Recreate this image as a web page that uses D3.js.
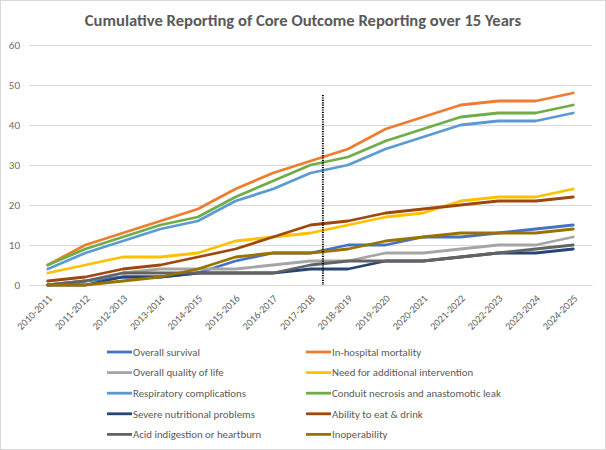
<!DOCTYPE html>
<html><head><meta charset="utf-8">
<script src="https://cdn.jsdelivr.net/npm/d3@7"></script>
<style>body{margin:0;background:#fff}</style>
</head><body><svg id="c" width="606" height="450"></svg>
<script>
const categories = ["2010-2011","2011-2012","2012-2013","2013-2014","2014-2015","2015-2016","2016-2017","2017-2018","2018-2019","2019-2020","2020-2021","2021-2022","2022-2023","2023-2024","2024-2025"];
const seriesNames = ["Overall survival","In-hospital mortality","Overall quality of life","Need for additional intervention","Respiratory complications","Conduit necrosis and anastomotic leak","Severe nutritional problems","Ability to eat & drink","Acid indigestion or heartburn","Inoperability"];
const seriesColors = ["#4472C4","#ED7D31","#A5A5A5","#FFC000","#5B9BD5","#70AD47","#264478","#9E480E","#636363","#997300"];
const overallSurvival   = [0,1,2,2,3,6,8,8,10,10,12,12,13,14,15];
const inHospitalMort    = [5,10,13,16,19,24,28,31,34,39,42,45,46,46,48];
const qualityOfLife     = [0,1,3,4,4,4,5,6,6,8,8,9,10,10,12];
const additionalInterv  = [3,5,7,7,8,11,12,13,15,17,18,21,22,22,24];
const respiratory       = [4,8,11,14,16,21,24,28,30,34,37,40,41,41,43];
const conduitNecrosis   = [5,9,12,15,17,22,26,30,32,36,39,42,43,43,45];
const severeNutrition   = [0,0,2,2,3,3,3,4,4,6,6,7,8,8,9];
const eatDrink          = [1,2,4,5,7,9,12,15,16,18,19,20,21,21,22];
const acidIndigestion   = [0,1,3,3,3,3,3,5,6,6,6,7,8,9,10];
const inoperability     = [0,0,1,2,4,7,8,8,9,11,12,13,13,13,14];
const seriesValues = [overallSurvival,inHospitalMort,qualityOfLife,additionalInterv,respiratory,conduitNecrosis,severeNutrition,eatDrink,acidIndigestion,inoperability];
const yTicks = [0,10,20,30,40,50,60];
const markerPosition = 7.33; // dotted divider, in category index units
const title = "Cumulative Reporting of Core Outcome Reporting over 15 Years";

const svg = d3.select("#c");
const font = "Carlito, Calibri, 'Open Sans', sans-serif";
svg.append("rect").attr("x",0.5).attr("y",0.5).attr("width",605).attr("height",449)
  .attr("fill","#fff").attr("stroke","#d9d9d9");

const m = {l:29, r:592, t:45, b:285};
const x = d3.scaleBand().domain(categories).range([m.l, m.r]);
const y = d3.scaleLinear().domain([0,60]).range([m.b, m.t]);
const xc = c => x(c) + x.bandwidth()/2;
const xi = d3.scaleLinear().domain([0, categories.length-1]).range([xc(categories[0]), xc(categories[categories.length-1])]);

svg.append("text").attr("x",303).attr("y",26).attr("text-anchor","middle")
  .attr("font-family",font).attr("font-weight","bold").attr("font-size",16.6)
  .attr("fill","#595959").text(title);

// gridlines
const yAxis = d3.axisLeft(y).tickValues(yTicks).tickSize(-(m.r-m.l)).tickPadding(9);
const gy = svg.append("g").attr("transform",`translate(${m.l},0)`).call(yAxis);
gy.select(".domain").remove();
gy.selectAll(".tick line").attr("stroke","#d9d9d9").attr("stroke-width",1);
gy.selectAll(".tick text").attr("font-family",font).attr("font-size",11).attr("fill","#6a6a6a");

const xAxis = d3.axisBottom(x).tickSize(0).tickPadding(0);
const gx = svg.append("g").attr("transform",`translate(0,${m.b})`).call(xAxis);
gx.select(".domain").attr("stroke","#d9d9d9");
gx.selectAll(".tick text").attr("font-family",font).attr("font-size",10.2).attr("fill","#606060")
  .attr("text-anchor","end").attr("dy",0).attr("y",0)
  .attr("transform","translate(5,14) rotate(-45)");

const line = d3.line().x((d,i)=>xc(categories[i])).y(d=>y(d));
seriesValues.forEach((vals,k)=>{
  svg.append("path").datum(vals).attr("d",line)
    .attr("fill","none").attr("stroke",seriesColors[k]).attr("stroke-width",2.8)
    .attr("stroke-linejoin","round").attr("stroke-linecap","round");
});

// dotted divider
svg.append("line").attr("x1",xi(markerPosition)).attr("x2",xi(markerPosition))
  .attr("y1",y(47.5)).attr("y2",y(0)).attr("stroke","#000").attr("stroke-width",2)
  .attr("stroke-dasharray","1.2,1.2");

// legend
const lg = svg.append("g");
seriesNames.forEach((n,i)=>{
  const col = i%2, row = Math.floor(i/2);
  const lx = col===0 ? 107 : 306, ly = 352 + row*20.6;
  lg.append("line").attr("x1",lx).attr("x2",lx+25).attr("y1",ly).attr("y2",ly)
    .attr("stroke",seriesColors[i]).attr("stroke-width",2.8);
  lg.append("text").attr("x",lx+26).attr("y",ly+3.8).attr("font-family",font)
    .attr("font-size",10.8).attr("fill","#595959").text(n);
});
</script></body></html>
